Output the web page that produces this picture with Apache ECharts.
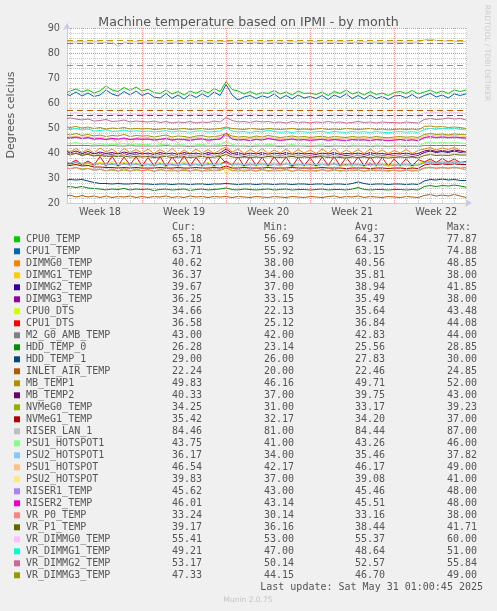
<!DOCTYPE html>
<html>
<head>
<meta charset="utf-8">
<script src="https://cdn.jsdelivr.net/npm/echarts@6/dist/echarts.min.js"></script>
<style>
html,body{margin:0;padding:0;background:#f0f0f0;}
#c{width:497px;height:611px;}
</style>
</head>
<body>
<div id="c"></div>
<script>
// ---- time base: days since Sunday 27 Apr 2025 00:00 ----
const times = [0.75];
for (let d = 1; d <= 34; d += 0.5) times.push(d);

const weekCenters = [3.5, 10.5, 17.5, 24.5, 31.5];
const weekLabels = ['Week 18', 'Week 19', 'Week 20', 'Week 21', 'Week 22'];
const weekLines = [7, 14, 21, 28];
const dayLines = [];
for (let d = 1; d <= 34; d++) if (d % 7 !== 0) dayLines.push(d);

const yTicks = [20, 30, 40, 50, 60, 70, 80, 90];

// ---- threshold lines ----
const thresholdValues = [85, 84, 75, 57, 55];
const thresholdColors = ['#c99a00', '#d26a00', '#a3a800', '#c05a00', '#008f00'];

// ---- series ----
const seriesNames = ['CPU0_TEMP','CPU1_TEMP','DIMMG0_TEMP','DIMMG1_TEMP','DIMMG2_TEMP','DIMMG3_TEMP','CPU0_DTS','CPU1_DTS','M2_G0_AMB_TEMP','HDD_TEMP_0','HDD_TEMP_1','INLET_AIR_TEMP','MB_TEMP1','MB_TEMP2','NVMeG0_TEMP','NVMeG1_TEMP','RISER_LAN_1','PSU1_HOTSPOT1','PSU2_HOTSPOT1','PSU1_HOTSPOT','PSU2_HOTSPOT','RISER1_TEMP','RISER2_TEMP','VR_P0_TEMP','VR_P1_TEMP','VR_DIMMG0_TEMP','VR_DIMMG1_TEMP','VR_DIMMG2_TEMP','VR_DIMMG3_TEMP'];
const seriesColors = ['#00cc00','#0066b3','#ff8000','#ffcc00','#330099','#990099','#ccff00','#ff0000','#808080','#008f00','#00487d','#b35a00','#b38f00','#6b006b','#8fb300','#b30000','#bebebe','#80ff80','#80c9ff','#ffc080','#ffe680','#aa80ff','#ee00cc','#ff8080','#666600','#ffbfff','#00ffcc','#cc6699','#999900'];

const curVals = [65.18,63.71,40.62,36.37,39.67,36.25,34.66,36.58,43.00,26.28,29.00,22.24,49.83,40.33,34.25,35.42,84.46,43.75,36.17,46.54,39.83,45.62,46.01,33.24,39.17,55.41,49.21,53.17,47.33];
const minVals = [56.69,55.92,38.00,34.00,37.00,33.15,22.13,25.12,42.00,23.14,26.00,20.00,46.16,37.00,31.00,32.17,81.00,41.00,34.00,42.17,37.00,43.00,43.14,30.14,36.16,53.00,47.00,50.14,44.15];
const avgVals = [64.37,63.15,40.56,35.81,38.94,35.49,35.64,36.84,42.83,25.56,27.83,22.46,49.71,39.75,33.17,34.20,84.44,43.26,35.46,46.17,39.08,45.46,45.51,33.16,38.44,55.37,48.64,52.57,46.70];
const maxVals = [77.87,74.88,48.85,38.00,41.85,38.00,43.48,44.08,44.00,28.85,30.00,24.85,52.00,43.00,39.23,37.00,87.00,46.00,37.82,49.00,41.00,48.00,48.00,38.00,41.71,60.00,51.00,55.84,49.00];

const CPU0_TEMP = [64.2,64.8,65.6,64.4,65.3,64.0,64.9,66.8,65.2,64.6,66.2,65.0,66.4,64.8,
65.5,64.2,63.8,65.2,63.6,64.6,63.2,64.8,63.9,65.1,64.0,65.8,64.6,68.6,
65.4,64.8,63.6,64.6,63.4,64.2,63.8,65.0,63.6,64.4,63.2,64.8,63.8,64.0,
63.4,64.4,63.0,64.6,63.8,65.2,63.6,64.4,63.2,64.6,63.4,64.0,63.0,64.2,
64.6,63.8,65.0,63.6,64.4,65.2,64.0,64.8,63.8,65.2,64.6,65.2];
const CPU1_TEMP = [63.4,63.0,64.4,62.8,64.0,62.6,63.2,65.2,63.6,62.8,64.6,63.2,64.8,63.0,
64.0,62.4,62.0,63.8,61.8,63.2,61.6,63.4,62.2,63.6,62.4,64.4,63.0,67.4,
63.2,61.2,62.4,63.0,61.8,62.8,62.2,63.6,61.8,63.0,61.6,63.2,62.0,62.6,
61.8,63.0,61.4,63.2,62.2,63.6,61.8,63.0,61.6,63.2,61.8,62.6,61.4,62.8,
63.0,62.0,63.4,61.8,63.0,63.8,62.4,63.2,62.0,63.6,63.0,63.7];
const DIMMG0_TEMP = [41.2,40.4,41.8,40.2,41.6,40.0,42.0,40.4,41.6,39.8,41.8,40.2,41.4,40.0,
41.6,39.8,41.4,40.0,41.8,39.6,41.2,39.8,41.6,40.0,41.4,39.8,41.2,42.4,
40.4,41.6,39.8,41.4,40.0,41.8,39.8,41.2,40.0,41.6,39.8,41.4,40.0,41.2,
39.8,41.6,40.0,41.8,39.8,41.2,40.0,41.4,39.8,41.6,40.0,41.2,39.8,41.0,
40.0,41.4,39.8,41.0,41.6,42.2,41.2,42.0,41.4,42.2,41.0,40.6];
const DIMMG1_TEMP = [36.4,36.0,36.6,35.8,36.4,35.6,36.2,35.6,36.0,35.4,36.2,35.6,36.0,35.4,
35.8,35.4,36.0,35.6,35.8,35.4,36.0,35.6,35.8,35.4,36.0,35.6,35.8,36.8,
35.6,36.0,35.4,35.8,35.6,36.0,35.4,35.8,35.6,36.0,35.4,35.8,35.6,35.8,
35.4,35.8,35.6,36.0,35.4,35.8,35.6,35.8,35.4,36.0,35.6,35.8,35.4,35.6,
35.6,35.8,35.4,35.6,36.4,36.8,36.4,36.6,36.4,36.8,36.4,36.4];
const DIMMG2_TEMP = [39.8,39.2,40.0,39.0,39.8,38.8,39.6,39.0,39.4,38.8,39.6,39.0,39.4,38.8,
39.2,38.6,39.4,38.8,39.2,38.6,39.4,38.8,39.2,38.6,39.4,38.8,39.2,40.6,
39.0,39.4,38.6,39.2,38.8,39.4,38.6,39.2,38.8,39.4,38.6,39.2,38.8,39.0,
38.6,39.2,38.8,39.4,38.6,39.0,38.8,39.2,38.6,39.4,38.8,39.0,38.6,39.0,
38.8,39.2,38.6,39.0,40.2,40.8,40.2,40.6,40.2,40.8,40.2,39.7];
const DIMMG3_TEMP = [36.0,35.6,36.2,35.4,36.0,35.2,35.8,35.2,35.6,35.0,35.8,35.2,35.6,35.0,
35.4,35.0,35.6,35.2,35.4,35.0,35.6,35.2,35.4,35.0,35.6,35.2,35.4,36.6,
35.2,35.6,35.0,35.4,35.2,35.6,35.0,35.4,35.2,35.6,35.0,35.4,35.2,35.4,
35.0,35.4,35.2,35.6,35.0,35.4,35.2,35.4,35.0,35.6,35.2,35.4,35.0,35.2,
35.2,35.4,35.0,35.2,36.0,36.4,36.0,36.2,36.0,36.4,36.0,36.3];
const CPU0_DTS = [35.4,35.0,36.0,34.8,35.8,34.6,36.4,34.4,36.6,34.2,36.4,34.6,36.2,34.4,
36.0,34.6,36.4,34.2,36.2,34.6,36.6,34.4,36.0,34.6,36.4,34.2,36.2,31.4,
34.6,36.2,34.4,36.4,34.6,36.0,34.4,36.4,34.6,36.2,34.2,36.0,34.6,36.0,
34.4,36.2,34.6,36.4,34.4,36.0,34.6,36.2,34.4,36.4,34.6,36.0,34.4,35.8,
34.6,36.0,34.4,35.8,36.4,37.0,36.0,36.8,36.2,36.8,36.0,34.7];
const CPU1_DTS = [36.4,35.8,37.2,35.4,36.8,35.2,38.6,35.0,38.8,34.8,38.4,35.2,38.6,34.8,
38.2,35.0,38.6,34.6,38.4,35.2,38.8,34.8,38.2,35.0,38.6,34.8,38.4,36.0,
35.2,38.4,34.8,38.6,35.0,38.2,34.8,38.6,35.2,38.4,34.6,38.2,35.0,38.0,
34.8,38.4,35.0,38.6,34.8,38.2,35.2,38.4,34.8,38.6,35.0,38.2,34.8,37.6,
35.0,37.8,34.8,37.4,36.4,37.6,36.2,37.8,36.4,37.6,36.2,36.6];
const M2_G0_AMB_TEMP = [43.0,43.0,43.0,43.0,43.0,42.8,43.0,42.8,43.0,42.8,42.8,43.0,42.8,42.8,
42.8,42.8,42.8,43.0,42.8,42.8,42.8,42.6,42.8,42.8,42.8,42.8,42.8,43.0,
42.8,42.8,42.8,42.6,42.8,42.8,42.8,42.8,42.6,42.8,42.8,42.8,42.8,42.6,
42.8,42.8,42.6,42.8,42.8,42.6,42.8,42.8,42.8,42.6,42.8,42.8,42.6,42.8,
42.8,42.6,42.8,42.6,43.0,43.0,43.0,43.0,43.0,43.0,43.0,43.0];
const HDD_TEMP_0 = [26.4,26.6,26.2,26.6,26.0,25.8,25.6,25.2,25.6,25.4,25.8,25.2,25.6,25.4,
25.6,25.0,25.4,25.6,25.2,25.4,25.6,25.0,25.4,25.6,25.2,25.4,25.6,26.0,
25.4,25.2,25.6,25.4,25.2,25.4,25.6,25.2,25.4,25.6,25.2,25.4,25.4,25.2,
25.4,25.6,25.2,25.4,25.4,25.2,25.6,26.2,25.4,25.2,25.4,25.4,25.2,25.4,
25.4,25.2,25.4,25.2,26.6,27.0,26.6,27.0,26.8,27.2,26.8,26.3];
const HDD_TEMP_1 = [29.2,29.4,29.2,29.4,28.8,28.2,27.8,27.8,27.6,27.8,27.6,27.6,27.8,27.6,
27.6,27.4,27.6,27.6,27.4,27.6,27.6,27.4,27.6,27.6,27.4,27.6,27.6,27.8,
27.6,27.4,27.6,27.6,27.4,27.6,27.6,27.4,27.6,27.6,27.4,27.6,27.6,27.4,
27.6,27.6,27.4,27.6,27.6,27.4,27.8,28.4,27.8,27.4,27.6,27.6,27.4,27.6,
27.6,27.4,27.6,27.4,28.8,29.4,29.2,29.6,29.2,29.4,29.0,29.0];
const INLET_AIR_TEMP = [22.8,23.2,22.4,23.0,22.4,22.8,22.2,22.8,22.2,22.6,22.4,22.8,22.2,22.6,
22.2,22.6,22.4,22.8,22.2,22.6,22.2,22.8,22.4,22.6,22.2,22.6,22.4,22.6,
22.2,22.6,22.4,22.2,22.6,22.4,22.2,22.6,22.4,22.2,22.6,22.4,22.2,22.6,
22.4,22.2,22.6,22.8,22.2,22.6,22.4,22.8,22.2,22.6,22.4,22.2,22.6,22.4,
22.2,22.6,22.4,22.2,23.0,23.4,22.8,23.2,22.8,23.4,22.8,22.2];
const MB_TEMP1 = [50.4,50.2,50.6,50.0,50.4,49.8,50.2,49.6,50.0,49.8,50.2,49.6,49.8,49.6,
49.8,49.4,49.6,49.8,49.4,49.6,49.8,49.4,49.6,49.8,49.4,49.6,49.8,50.4,
49.8,49.6,49.4,49.8,49.6,49.4,49.8,49.6,49.4,49.6,49.8,49.4,49.6,49.4,
49.6,49.8,49.4,49.6,49.4,49.8,49.6,49.4,49.6,49.8,49.4,49.6,49.2,49.4,
49.6,49.4,49.6,49.2,50.6,50.8,50.4,50.6,50.2,50.4,50.2,49.8];
const MB_TEMP2 = [40.6,40.0,40.8,39.8,40.6,39.6,40.4,39.8,40.2,39.6,40.4,39.8,40.2,39.6,
40.0,39.4,40.2,39.6,40.0,39.4,40.2,39.6,40.0,39.4,40.2,39.6,40.0,41.6,
39.8,40.2,39.4,40.0,39.6,40.2,39.4,40.0,39.6,40.2,39.4,40.0,39.6,39.8,
39.4,40.0,39.6,40.2,39.4,39.8,39.6,40.0,39.4,40.2,39.6,39.8,39.4,39.8,
39.6,40.0,39.4,39.8,40.8,41.2,40.6,41.0,40.6,41.2,40.8,40.3];
const NVMeG0_TEMP = [34.0,33.8,34.2,33.6,33.8,33.2,33.4,33.0,33.2,32.8,33.2,32.8,33.2,33.0,
33.2,32.8,33.2,33.0,32.8,33.2,33.0,32.8,33.2,33.0,32.8,33.2,33.0,34.0,
33.0,32.8,33.2,33.0,32.8,33.2,33.0,32.8,33.0,33.2,32.8,33.0,33.0,32.8,
33.0,33.2,32.8,33.0,33.0,32.8,33.2,33.0,32.8,33.0,33.2,32.8,33.0,33.0,
32.8,33.0,33.2,32.8,34.0,34.2,34.0,34.2,34.0,34.2,34.0,34.2];
const NVMeG1_TEMP = [35.2,35.0,35.4,34.8,35.0,34.4,34.4,34.2,34.2,34.0,34.2,34.0,34.2,34.0,
34.0,34.0,34.2,34.0,34.0,34.2,34.0,34.0,34.2,34.0,34.0,34.2,34.0,34.8,
34.0,34.0,34.2,34.0,34.0,34.0,34.2,34.0,34.0,34.0,34.2,34.0,34.0,34.0,
34.0,34.2,34.0,34.0,34.0,33.8,34.0,34.0,34.0,33.8,34.0,34.0,33.8,34.0,
34.0,33.8,34.0,33.8,35.2,35.6,35.4,35.6,35.4,35.6,35.4,35.4];
const RISER_LAN_1 = [84.6,84.5,84.4,84.6,84.3,84.5,84.4,84.2,84.5,82.6,84.3,84.4,84.5,84.3,
84.4,84.3,84.5,84.4,84.3,84.5,84.4,84.3,84.4,84.5,84.3,84.4,84.5,84.6,
84.4,84.3,84.5,84.4,84.3,84.4,84.5,84.3,84.4,84.3,84.5,84.4,84.3,84.4,
84.5,84.3,84.4,84.3,84.5,84.4,84.3,84.4,84.5,84.3,84.4,84.3,84.4,84.4,
84.3,84.4,84.3,84.4,85.2,85.6,85.0,84.8,84.9,84.7,84.6,84.5];
const PSU1_HOTSPOT1 = [44.0,43.8,44.2,43.6,44.0,43.4,43.8,43.2,43.6,43.4,43.8,43.2,43.6,43.3,
43.4,43.0,43.3,43.6,43.0,43.4,43.2,42.9,43.3,43.5,43.0,43.2,43.4,44.6,
43.4,43.0,43.2,42.8,43.3,43.0,43.5,43.2,42.9,43.1,43.4,43.0,43.2,42.9,
43.1,43.3,42.9,43.2,43.0,42.8,43.2,43.0,43.1,42.8,43.2,43.0,42.8,43.0,
43.2,42.9,43.1,42.8,44.0,44.4,44.0,44.3,44.0,44.2,44.0,43.8];
const PSU2_HOTSPOT1 = [36.2,36.0,36.4,35.8,36.0,35.6,35.8,35.4,35.6,35.4,35.6,35.2,35.6,35.4,
35.4,35.2,35.4,35.6,35.2,35.4,35.4,35.2,35.4,35.6,35.2,35.4,35.4,36.0,
35.4,35.2,35.4,35.2,35.4,35.2,35.6,35.4,35.2,35.4,35.4,35.2,35.4,35.2,
35.4,35.4,35.2,35.4,35.2,35.0,35.4,35.2,35.4,35.0,35.4,35.2,35.0,35.2,
35.4,35.2,35.4,35.0,36.0,36.4,36.0,36.2,36.0,36.4,36.2,36.2];
const PSU1_HOTSPOT = [46.6,46.4,46.8,46.2,46.6,46.0,46.4,45.8,46.2,43.4,46.0,43.0,46.2,46.0,
46.2,45.8,43.6,46.4,45.8,44.0,46.0,45.8,46.2,46.4,43.8,46.0,46.2,47.0,
46.2,45.8,46.0,45.7,46.2,45.8,46.4,46.0,45.7,45.9,46.2,45.8,46.0,45.7,
45.9,46.1,45.7,46.0,45.8,45.6,46.0,45.8,45.9,45.6,46.0,45.8,45.6,45.8,
46.0,45.7,45.9,45.6,46.8,47.2,46.8,47.0,46.8,47.0,46.8,46.5];
const PSU2_HOTSPOT = [39.6,39.4,39.8,39.2,39.6,39.0,39.4,38.8,39.2,39.0,39.4,38.8,39.2,39.0,
39.0,38.8,39.2,39.0,38.8,39.0,39.2,38.8,39.0,39.2,38.8,39.0,39.2,39.8,
39.0,38.8,39.0,38.8,39.0,38.8,39.2,39.0,38.8,39.0,39.2,38.8,39.0,38.8,
39.0,39.2,38.8,39.0,38.8,38.6,39.0,38.8,39.0,38.6,39.0,38.8,38.6,38.8,
39.0,38.8,39.0,38.6,39.6,40.0,39.6,39.8,39.6,40.0,39.8,39.8];
const RISER1_TEMP = [46.0,45.8,46.2,45.7,46.0,45.5,45.7,45.3,45.7,45.5,45.8,45.3,45.6,45.4,
45.5,45.1,45.4,45.7,45.1,45.5,45.3,45.0,45.4,45.6,45.1,45.3,45.5,47.2,
45.5,45.1,45.3,44.9,45.4,45.1,45.7,45.3,45.0,45.2,45.5,45.1,45.3,45.0,
45.2,45.4,45.0,45.3,45.1,44.9,45.3,45.1,45.2,44.9,45.3,45.1,44.9,45.1,
45.3,45.0,45.2,44.9,46.0,46.4,46.0,46.3,46.0,46.2,46.0,45.6];
const RISER2_TEMP = [46.2,46.0,46.4,45.8,46.2,45.6,45.8,45.4,45.8,45.6,46.0,45.4,45.7,45.5,
45.6,45.2,45.5,45.8,45.2,45.6,45.4,45.1,45.5,45.7,45.2,45.4,45.6,48.0,
45.6,45.2,45.4,45.0,45.5,45.2,45.8,45.4,45.1,45.3,45.6,45.2,45.4,45.1,
45.3,45.5,45.1,45.4,45.2,45.0,45.4,45.2,45.3,45.0,45.4,45.2,45.0,45.2,
45.4,45.1,45.3,45.0,46.2,46.6,46.2,46.5,46.2,46.4,46.2,46.0];
const VR_P0_TEMP = [34.0,33.6,34.2,33.2,33.8,33.0,33.6,32.8,33.6,32.8,33.8,32.8,33.6,32.8,
33.4,32.6,33.6,32.8,33.4,32.6,33.6,32.8,33.4,32.6,33.6,32.8,33.4,34.4,
32.8,33.6,32.6,33.4,32.8,33.6,32.6,33.4,32.8,33.6,32.6,33.4,32.8,33.4,
32.6,33.4,32.8,33.6,32.6,33.4,32.8,33.4,32.6,33.6,32.8,33.4,32.6,33.2,
32.8,33.4,32.6,33.2,34.0,34.4,33.8,34.2,33.8,34.4,33.8,33.2];
const VR_P1_TEMP = [39.6,39.4,39.8,39.2,39.4,38.8,39.0,38.6,38.8,38.6,38.8,38.4,38.6,38.4,
38.6,38.2,38.4,38.6,38.2,38.4,38.4,38.2,38.4,38.6,38.2,38.4,38.6,39.4,
38.4,38.2,38.4,38.2,38.4,38.2,38.6,38.4,38.2,38.4,38.6,38.2,38.4,38.2,
38.4,38.6,38.2,38.4,38.2,38.0,38.4,38.2,38.4,38.0,38.4,38.2,38.0,38.2,
38.4,38.2,38.4,38.0,39.0,39.4,39.0,39.2,39.0,39.4,39.2,39.2];
const VR_DIMMG0_TEMP = [56.0,55.8,56.2,55.6,55.8,55.4,55.6,55.9,55.4,55.6,55.3,55.7,55.4,55.5,
55.3,55.5,55.1,55.4,55.2,55.5,55.1,55.3,55.2,55.5,55.2,55.4,55.3,58.4,
55.6,55.2,55.4,55.1,55.3,55.0,55.3,55.2,55.0,55.3,55.1,55.2,55.0,55.2,
55.1,55.3,55.0,55.2,55.1,55.3,55.0,55.2,54.9,55.2,55.0,55.1,54.9,55.0,
55.1,54.9,55.0,55.1,56.0,56.4,56.2,56.5,56.2,56.4,56.1,55.4];
const VR_DIMMG1_TEMP = [49.6,49.4,49.8,49.2,49.6,48.8,49.0,49.4,48.6,48.8,49.2,48.6,48.9,48.6,
48.8,48.4,48.6,49.0,48.4,48.8,48.6,48.3,48.7,48.9,48.4,48.6,48.8,50.2,
48.8,48.4,48.6,48.2,48.7,48.4,49.2,48.6,48.3,48.5,48.2,48.6,48.4,48.3,
48.5,48.7,48.2,48.6,48.4,48.2,48.6,48.3,48.5,48.2,48.6,48.3,48.1,48.4,
48.6,48.3,48.5,48.2,49.4,49.8,49.5,49.9,49.6,49.8,49.5,49.2];
const VR_DIMMG2_TEMP = [53.8,54.0,53.6,53.2,53.6,52.8,53.0,53.4,52.6,52.8,53.2,52.4,52.8,52.6,
52.4,52.8,52.2,52.6,52.0,52.4,52.2,52.6,52.0,52.4,52.2,52.8,52.4,54.2,
53.0,52.4,52.6,52.2,52.8,52.4,52.6,52.2,52.4,52.0,52.6,52.2,52.4,52.0,
52.4,52.2,52.6,52.2,52.4,52.0,52.2,52.6,52.2,52.4,52.0,52.4,52.2,52.2,
52.0,52.4,52.2,52.0,53.4,53.8,53.4,53.6,54.0,53.6,53.8,53.2];
const VR_DIMMG3_TEMP = [47.6,47.2,47.8,47.0,47.4,46.8,47.2,46.6,47.0,46.8,47.4,46.6,47.0,46.8,
46.9,46.4,46.8,47.2,46.4,46.8,46.6,46.2,46.8,47.0,46.4,46.6,46.9,47.8,
46.8,46.4,46.6,46.2,46.8,46.4,47.0,46.6,46.2,46.5,46.8,46.4,46.6,46.2,
46.5,46.7,46.2,46.6,46.4,46.2,46.6,46.3,46.5,46.2,46.6,46.3,46.1,46.4,
46.6,46.3,46.5,46.2,47.4,47.8,47.4,47.6,47.2,47.6,47.4,47.3];

const seriesValues = [CPU0_TEMP,CPU1_TEMP,DIMMG0_TEMP,DIMMG1_TEMP,DIMMG2_TEMP,DIMMG3_TEMP,CPU0_DTS,CPU1_DTS,M2_G0_AMB_TEMP,HDD_TEMP_0,HDD_TEMP_1,INLET_AIR_TEMP,MB_TEMP1,MB_TEMP2,NVMeG0_TEMP,NVMeG1_TEMP,RISER_LAN_1,PSU1_HOTSPOT1,PSU2_HOTSPOT1,PSU1_HOTSPOT,PSU2_HOTSPOT,RISER1_TEMP,RISER2_TEMP,VR_P0_TEMP,VR_P1_TEMP,VR_DIMMG0_TEMP,VR_DIMMG1_TEMP,VR_DIMMG2_TEMP,VR_DIMMG3_TEMP];

const titleText = 'Machine temperature based on IPMI - by month';
const yAxisTitle = 'Degrees celcius';
const lastUpdate = 'Last update: Sat May 31 01:00:45 2025';

// ---- build chart ----
const SANS = '"DejaVu Sans", Verdana, sans-serif';
const MONO = '"DejaVu Sans Mono", monospace';
const TXT = '#555555';
const axisColor = '#c8c8f0';

const series = [];
series.push({
  type: 'line', data: [], z: 1, silent: true,
  markLine: { silent: true, symbol: ['none','none'], animation: false,
    label: { show: false },
    lineStyle: { color: '#c8c8c8', type: [1, 1], width: 1 },
    data: dayLines.map(d => ({ xAxis: d })) }
});
series.push({
  type: 'line', data: [], z: 1, silent: true,
  markLine: { silent: true, symbol: ['none','none'], animation: false,
    label: { show: false },
    lineStyle: { color: 'rgba(255,90,90,0.6)', type: [1, 1], width: 1 },
    data: weekLines.map(d => ({ xAxis: d })) }
});
seriesNames.forEach((n, i) => {
  series.push({
    name: n, type: 'line', showSymbol: false, symbol: 'none', z: 3,
    lineStyle: { color: seriesColors[i], width: 1 },
    itemStyle: { color: seriesColors[i] },
    data: times.map((t, j) => [t, seriesValues[i][j]])
  });
});
series.push({
  type: 'line', data: [], z: 6, silent: true,
  markLine: { silent: true, symbol: ['none','none'], animation: false,
    label: { show: false },
    lineStyle: { type: [6, 4], width: 1.2 },
    data: thresholdValues.map((v, i) => ({ yAxis: v, lineStyle: { color: thresholdColors[i], type: [6, 4], width: 1.2 } })) }
});

const graphic = [];
graphic.push({ type: 'text', x: 11, y: 115, rotation: Math.PI / 2,
  style: { text: yAxisTitle, font: '11px ' + SANS, fill: TXT, textAlign: 'center', textVerticalAlign: 'middle' } });
graphic.push({ type: 'text', x: 487, y: 53, rotation: -Math.PI / 2,
  style: { text: 'RRDTOOL / TOBI OETIKER', font: '7.5px ' + SANS, fill: '#cccccc', textAlign: 'center', textVerticalAlign: 'middle' } });

const colX = [172, 264, 355, 447];
const headers = ['Cur:', 'Min:', 'Avg:', 'Max:'];
const headerY = 227.3, rowY0 = 239.3, rowH = 12;
headers.forEach((h, k) => graphic.push({ type: 'text', x: colX[k], y: headerY,
  style: { text: h, font: '10px ' + MONO, fill: TXT, textAlign: 'left', textVerticalAlign: 'middle' } }));
seriesNames.forEach((n, i) => {
  const y = rowY0 + i * rowH;
  graphic.push({ type: 'rect', shape: { x: 14, y: y - 3, width: 6, height: 6 }, style: { fill: seriesColors[i] } });
  graphic.push({ type: 'text', x: 26, y: y, style: { text: n, font: '10px ' + MONO, fill: TXT, textAlign: 'left', textVerticalAlign: 'middle' } });
  [curVals, minVals, avgVals, maxVals].forEach((arr, k) => {
    graphic.push({ type: 'text', x: colX[k], y: y, style: { text: arr[i].toFixed(2), font: '10px ' + MONO, fill: TXT, textAlign: 'left', textVerticalAlign: 'middle' } });
  });
});
graphic.push({ type: 'text', x: 483, y: 587.3, style: { text: lastUpdate, font: '10px ' + MONO, fill: TXT, textAlign: 'right', textVerticalAlign: 'middle' } });
graphic.push({ type: 'text', x: 248, y: 600, style: { text: 'Munin 2.0.75', font: '7.5px ' + SANS, fill: '#c4c4c4', textAlign: 'center', textVerticalAlign: 'middle' } });

const chart = echarts.init(document.getElementById('c'), null, { renderer: 'canvas' });
chart.setOption({
  backgroundColor: '#f0f0f0',
  animation: false,
  title: { text: titleText, left: 'center', top: 11,
    textStyle: { fontFamily: SANS, fontSize: 12.6, fontWeight: 'normal', color: TXT } },
  grid: { left: 67, top: 28, width: 400, height: 175, show: true, backgroundColor: '#ffffff', borderWidth: 0, containLabel: false },
  xAxis: {
    type: 'value', min: 0.75, max: 34.0625,
    axisLine: { show: true, onZero: false, lineStyle: { color: axisColor, width: 1 }, symbol: ['none', 'arrow'], symbolSize: [6, 7], symbolOffset: [0, 5] },
    axisTick: { show: false },
    splitLine: { show: false },
    axisLabel: {
      customValues: weekCenters,
      formatter: v => { const k = weekCenters.indexOf(v); return k >= 0 ? weekLabels[k] : ''; },
      fontFamily: SANS, fontSize: 9.7, color: TXT, margin: 4
    }
  },
  yAxis: [
    { type: 'value', min: 20, max: 90, interval: 2, offset: 0,
      axisLine: { show: true, onZero: false, lineStyle: { color: axisColor, width: 1 }, symbol: ['none', 'arrow'], symbolSize: [6, 7], symbolOffset: [0, 5] },
      axisTick: { show: false }, axisLabel: { show: false },
      splitLine: { show: true, lineStyle: { color: '#c8c8c8', type: [1, 1], width: 1 } } },
    { type: 'value', min: 20, max: 90, interval: 10, position: 'left', offset: 0,
      axisLine: { show: false }, axisTick: { show: false },
      axisLabel: { show: true, fontFamily: SANS, fontSize: 9.7, color: TXT, margin: 7,
        formatter: v => (yTicks.indexOf(v) >= 0 ? String(v) : '') },
      splitLine: { show: true, lineStyle: { color: 'rgba(255,90,90,0.6)', type: [1, 1], width: 1 } } }
  ],
  series: series,
  graphic: graphic
});
</script>
</body>
</html>
